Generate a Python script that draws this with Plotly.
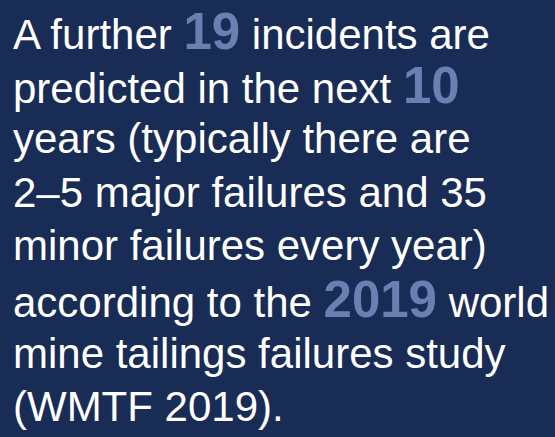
import plotly.graph_objects as go

# ---- data ----
highlight_values = ["19", "10", "2019"]
text_lines = [
    "A further {0} incidents are",
    "predicted in the next {1}",
    "years (typically there are",
    "2\u20135 major failures and 35",
    "minor failures every year)",
    "according to the {2} world",
    "mine tailings failures study",
    "(WMTF 2019).",
]

BG = "#182c55"
HL = "#6a80b2"
FONT = "Liberation Sans, Arial, Helvetica, sans-serif"
BASE_SIZE = 42
HL_SIZE = 51

W, H = 555, 437
left_px = 11
first_center = 31.5
spacing = 53.6


def hl(v):
    return f"<b><span style='color:{HL};font-size:{HL_SIZE}px'>{v}</span></b>"


fig = go.Figure()
annotations = []
for i, line in enumerate(text_lines):
    txt = line.format(*[hl(v) for v in highlight_values])
    yc = first_center + i * spacing
    annotations.append(dict(
        x=left_px / W, y=1 - yc / H, xref="paper", yref="paper",
        xanchor="left", yanchor="middle", align="left",
        showarrow=False, text=txt,
        font=dict(family=FONT, size=BASE_SIZE, color="white"),
    ))

fig.update_layout(
    width=W, height=H,
    margin=dict(l=0, r=0, t=0, b=0),
    paper_bgcolor=BG, plot_bgcolor=BG,
    xaxis=dict(visible=False, range=[0, 1]),
    yaxis=dict(visible=False, range=[0, 1]),
    annotations=annotations,
    showlegend=False,
)
fig.write_html(
    "out.html",
    config={"displayModeBar": False, "staticPlot": True},
    post_script="document.body.style.margin='0';document.body.style.background='" + BG + "';document.body.style.overflow='hidden';",
)
